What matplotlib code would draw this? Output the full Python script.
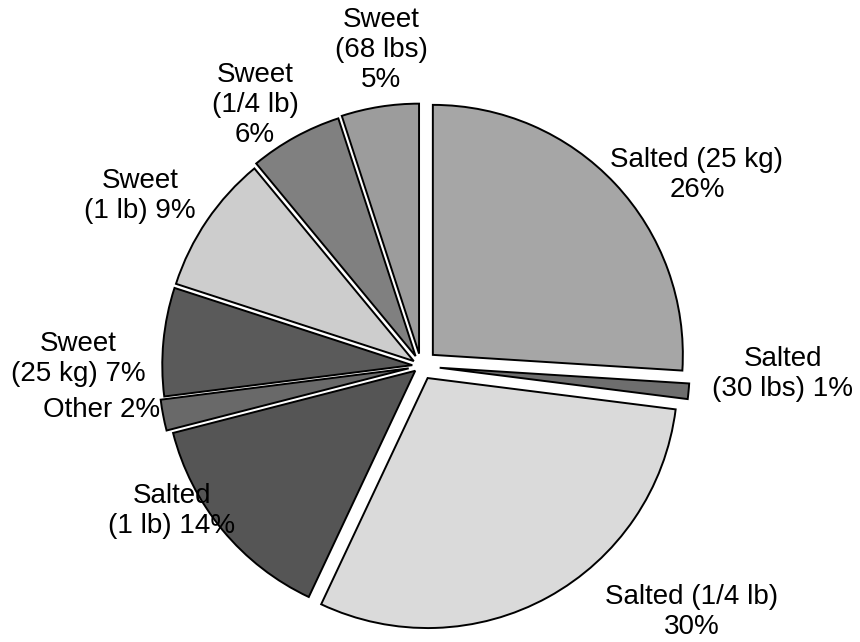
import matplotlib
matplotlib.use("Agg")
import matplotlib.pyplot as plt

# slices, clockwise from 12 o'clock
names = ["Salted (25 kg)", "Salted\n(30 lbs)", "Salted (1/4 lb)", "Salted\n(1 lb)",
         "Other", "Sweet\n(25 kg)", "Sweet\n(1 lb)", "Sweet\n(1/4 lb)", "Sweet\n(68 lbs)"]
shares = [26, 1, 30, 14, 2, 7, 9, 6, 5]
joins = ["\n", " ", "\n", " ", " ", " ", " ", "\n", "\n"]

greys = ["#a6a6a6", "#6e6e6e", "#dadada", "#555555", "#696969",
         "#5a5a5a", "#cdcdcd", "#808080", "#9c9c9c"]
explode = [0.065, 0.075, 0.055, 0.03, 0.05, 0.035, 0.035, 0.045, 0.05]

# label anchor points in pixels (x from left, y from top)
label_xy = [(697, 175), (783, 374), (692, 612), (172, 511), (102, 410),
            (78, 359), (140, 196), (255, 105), (381, 50)]

W, H = 860, 642
R = 250
fig = plt.figure(figsize=(8.6, 6.42), dpi=100)
ax = fig.add_axes([0, 0, 1, 1])

# pie explode is in data units, so scale by the radius
ax.pie(shares, colors=greys, explode=[e * R for e in explode], startangle=90,
       counterclock=False, center=(421, H - 366), radius=R, frame=True,
       wedgeprops=dict(edgecolor="black", linewidth=1.4))
ax.set_xlim(0, W)
ax.set_ylim(0, H)
ax.set_aspect("equal")
ax.axis("off")

for n, s, j, (x, y) in zip(names, shares, joins, label_xy):
    ax.text(x, H - y, f"{n}{j}{s}%", ha="center", va="center", multialignment="center",
            fontsize=20, family="Liberation Sans", linespacing=1.2)

fig.savefig("out.png", dpi=100)
